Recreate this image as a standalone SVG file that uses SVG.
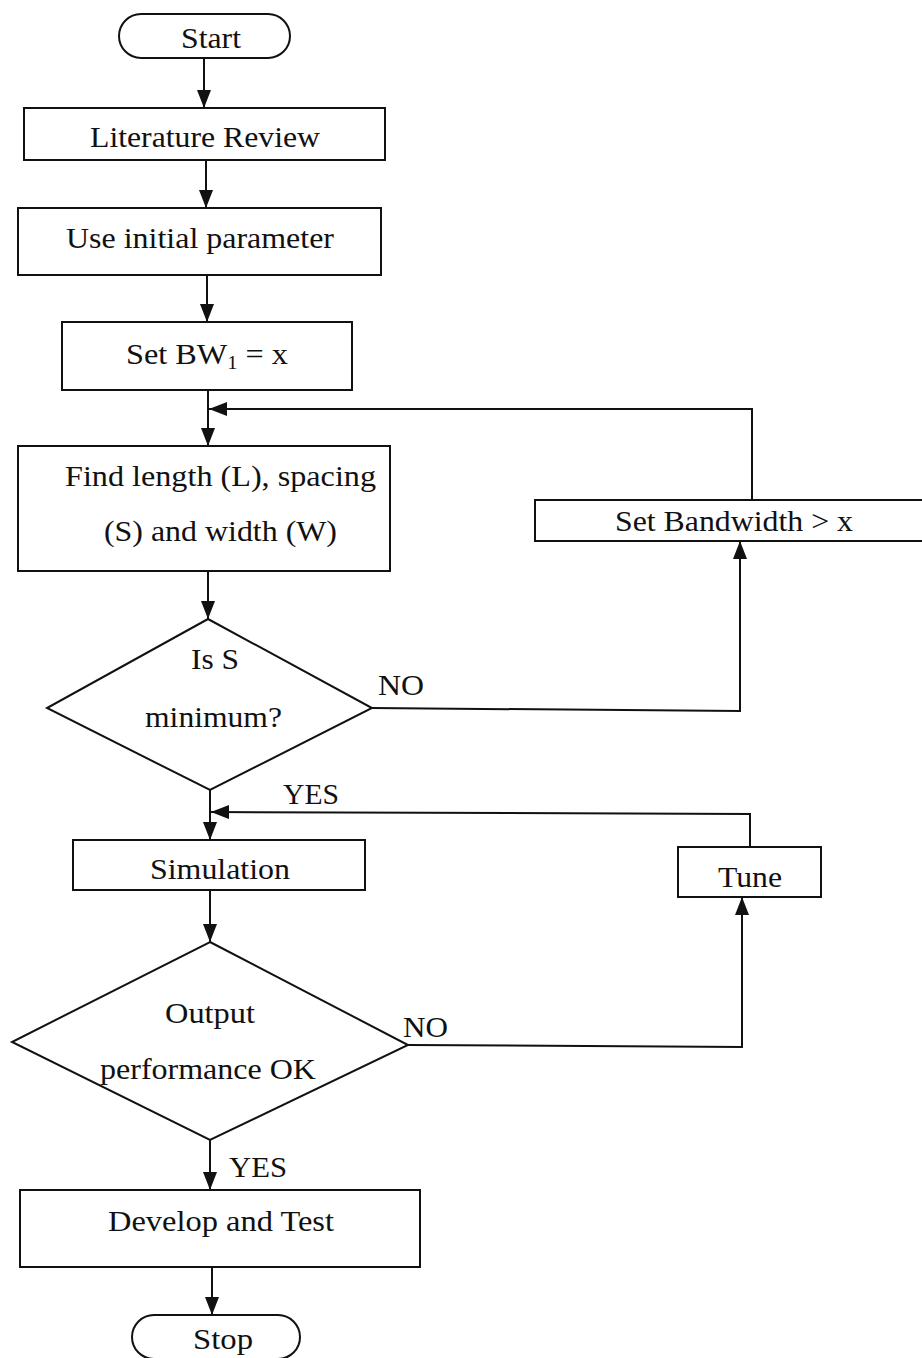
<svg xmlns="http://www.w3.org/2000/svg" width="922" height="1358" viewBox="0 0 922 1358">
<defs>
<style>
.s{fill:#fff;stroke:#111;stroke-width:2}
.c{fill:none;stroke:#111;stroke-width:2}
.t{font-family:"Liberation Serif","Times New Roman",serif;font-size:30px;fill:#111;text-anchor:middle}
.l{font-family:"Liberation Serif","Times New Roman",serif;font-size:30px;fill:#111}
</style>
<marker id="ahl" markerWidth="18" markerHeight="14" refX="18" refY="7" orient="auto" markerUnits="userSpaceOnUse" viewBox="0 0 18 14">
<path d="M0,0 L18,7 L0,14 z" fill="#111"/>
</marker>
</defs>
<rect width="922" height="1358" fill="#fff"/>
<g id="connectors">
<line class="c" x1="204" y1="57" x2="204" y2="108" marker-end="url(#ahl)"/>
<line class="c" x1="206" y1="160" x2="206" y2="208" marker-end="url(#ahl)"/>
<line class="c" x1="207" y1="275" x2="207" y2="322" marker-end="url(#ahl)"/>
<line class="c" x1="208" y1="390" x2="208" y2="446" marker-end="url(#ahl)"/>
<polyline class="c" points="752,500 752,409 209,409" marker-end="url(#ahl)"/>
<line class="c" x1="208" y1="571" x2="208" y2="619" marker-end="url(#ahl)"/>
<polyline class="c" points="372,708 740,711 740,541" marker-end="url(#ahl)"/>
<line class="c" x1="210" y1="790" x2="210" y2="840" marker-end="url(#ahl)"/>
<polyline class="c" points="750,847 750,814 211,812" marker-end="url(#ahl)"/>
<line class="c" x1="210" y1="890" x2="210" y2="942" marker-end="url(#ahl)"/>
<polyline class="c" points="408,1045 742,1047 742,897" marker-end="url(#ahl)"/>
<line class="c" x1="210" y1="1140" x2="210" y2="1190" marker-end="url(#ahl)"/>
<line class="c" x1="212" y1="1267" x2="212" y2="1315" marker-end="url(#ahl)"/>
<text class="l" x="378" y="695" textLength="46" lengthAdjust="spacingAndGlyphs">NO</text>
<text class="l" x="283" y="804" textLength="56" lengthAdjust="spacingAndGlyphs">YES</text>
<text class="l" x="403" y="1037" textLength="45" lengthAdjust="spacingAndGlyphs">NO</text>
<text class="l" x="229" y="1177" textLength="58" lengthAdjust="spacingAndGlyphs">YES</text>
</g>
<g id="start">
<rect class="s" x="119" y="14" width="171" height="44" rx="22" ry="22"/>
<text class="t" x="211" y="48" textLength="60" lengthAdjust="spacingAndGlyphs">Start</text>
</g>
<g id="literature">
<rect class="s" x="24" y="108" width="361" height="52"/>
<text class="t" x="205" y="147" textLength="230" lengthAdjust="spacingAndGlyphs">Literature Review</text>
</g>
<g id="initial">
<rect class="s" x="18" y="208" width="363" height="67"/>
<text class="t" x="200" y="248" textLength="268" lengthAdjust="spacingAndGlyphs">Use initial parameter</text>
</g>
<g id="setbw1">
<rect class="s" x="62" y="322" width="290" height="68"/>
<text class="t" x="207" y="364" textLength="162" lengthAdjust="spacingAndGlyphs">Set BW<tspan font-size="19" dy="5">1</tspan><tspan dy="-5"> = x</tspan></text>
</g>
<g id="find">
<rect class="s" x="18" y="446" width="372" height="125"/>
<text class="t" x="220.5" y="486" textLength="311" lengthAdjust="spacingAndGlyphs">Find length (L), spacing</text>
<text class="t" x="220.5" y="541" textLength="233" lengthAdjust="spacingAndGlyphs">(S) and width (W)</text>
</g>
<g id="setbandwidth">
<rect class="s" x="535" y="500" width="395" height="41"/>
<text class="t" x="734" y="531" textLength="238" lengthAdjust="spacingAndGlyphs">Set Bandwidth &gt; x</text>
</g>
<g id="isS">
<polygon class="s" points="208,619 372,708 210,790 47,708"/>
<text class="t" x="215" y="669" textLength="48" lengthAdjust="spacingAndGlyphs">Is S</text>
<text class="t" x="213.5" y="727" textLength="137" lengthAdjust="spacingAndGlyphs">minimum?</text>
</g>
<g id="simulation">
<rect class="s" x="73" y="840" width="292" height="50"/>
<text class="t" x="220" y="879" textLength="140" lengthAdjust="spacingAndGlyphs">Simulation</text>
</g>
<g id="tune">
<rect class="s" x="678" y="847" width="143" height="50"/>
<text class="t" x="750" y="887" textLength="64" lengthAdjust="spacingAndGlyphs">Tune</text>
</g>
<g id="output">
<polygon class="s" points="210,942 408,1045 210,1140 12,1042"/>
<text class="t" x="210" y="1023" textLength="90" lengthAdjust="spacingAndGlyphs">Output</text>
<text class="t" x="208" y="1079" textLength="216" lengthAdjust="spacingAndGlyphs">performance OK</text>
</g>
<g id="develop">
<rect class="s" x="20" y="1190" width="400" height="77"/>
<text class="t" x="221" y="1231" textLength="226" lengthAdjust="spacingAndGlyphs">Develop and Test</text>
</g>
<g id="stop">
<rect class="s" x="132" y="1315" width="168" height="44" rx="22" ry="22"/>
<text class="t" x="223" y="1349" textLength="60" lengthAdjust="spacingAndGlyphs">Stop</text>
</g>
</svg>
